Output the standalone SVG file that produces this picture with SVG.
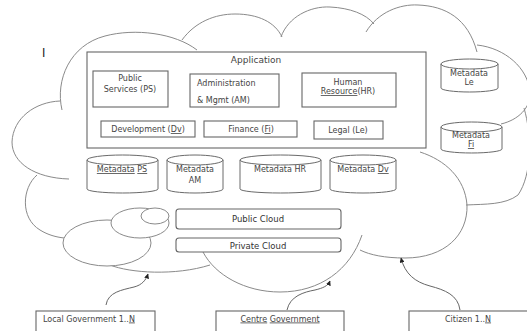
<svg xmlns="http://www.w3.org/2000/svg" width="527" height="331" viewBox="0 0 527 331">
<style>
.cl{fill:none;stroke:#8a8a8a;stroke-width:1}
.el{fill:#fff;stroke:#8a8a8a;stroke-width:1}
.bx{fill:#fff;stroke:#666;stroke-width:1.1}
.cy{fill:#fff;stroke:#6a6a6a;stroke-width:1}
.t{font-family:"DejaVu Sans",Verdana,sans-serif;font-size:8px;fill:#444}
.c{text-anchor:middle}
.u{text-decoration:underline}
.ar{fill:none;stroke:#666;stroke-width:1}
</style>
<defs>
<marker id="ah" viewBox="0 0 10 10" refX="9" refY="5" markerWidth="5" markerHeight="5" orient="auto">
<path d="M0,0 L10,5 L0,10 Z" fill="#222"/>
</marker>
</defs>
<rect width="527" height="331" fill="#fff"/>
<g id="cloud">
<path class="cl" d="M62,110 C55,80 70,45 105,36 C135,28 175,33 197,50"/>
<path class="cl" d="M182,40 C195,22 215,14 235,14 C258,14 275,22 282,37"/>
<path class="cl" d="M281,37 C288,17 310,6 330,7 C350,8 366,14 374,24"/>
<path class="cl" d="M366,32 C378,12 400,4 418,5 C445,6 468,18 477,52"/>
<path class="cl" d="M477,45 C505,48 528,68 530,92 C531,108 518,120 501,124"/>
<path class="cl" d="M524,108 C532,135 532,175 518,195 C505,205 485,204 466,205"/>
<path class="cl" d="M420,152 C445,160 465,178 467,205 C468,235 445,258 405,258 C385,258 370,255 360,250"/>
<path class="cl" d="M203,252 C215,275 245,292 280,292 C320,292 350,270 362,235"/>
<path class="cl" d="M60,101 C35,102 13,118 12,142 C12,163 35,178 69,179"/>
<path class="cl" d="M37,175 C22,188 20,218 40,230 C48,235 56,237 64,238"/>
<path class="cl" d="M110,265 C130,273 175,276 210,265"/>
<ellipse class="el" cx="107" cy="243" rx="44" ry="23"/>
<ellipse class="el" cx="140" cy="223" rx="29" ry="15"/>
<ellipse class="el" cx="155" cy="216" rx="14" ry="8"/>
<text x="42" y="57" style="font-family:'Liberation Sans',Arial,sans-serif;font-size:12px;fill:#222">I</text>
</g>
<g id="application">
<rect class="bx" x="87" y="52" width="339" height="96"/>
<text class="t c" x="256" y="63" style="font-size:9px">Application</text>
</g>
<g id="ps">
<rect class="bx" x="93" y="71" width="75" height="36"/>
<text class="t c" x="130" y="81">Public</text>
<text class="t c" x="130" y="92">Services (PS)</text>
</g>
<g id="am">
<rect class="bx" x="190" y="74" width="89" height="33"/>
<text class="t" x="197" y="85.5">Administration</text>
<text class="t" x="197" y="102.5">&amp; Mgmt  (AM)</text>
</g>
<g id="hr">
<rect class="bx" x="302" y="73" width="94" height="34"/>
<text class="t c" x="348" y="84.5">Human</text>
<text class="t c" x="348" y="94"><tspan class="u">Resource</tspan>(HR)</text>
</g>
<g id="dv">
<rect class="bx" x="101" y="121" width="94" height="16"/>
<text class="t c" x="148" y="132">Development (<tspan class="u">Dv</tspan>)</text>
</g>
<g id="fi">
<rect class="bx" x="204" y="121" width="93" height="16"/>
<text class="t c" x="251" y="132">Finance (<tspan class="u">Fi</tspan>)</text>
</g>
<g id="le">
<rect class="bx" x="314" y="121" width="69" height="18"/>
<text class="t c" x="348" y="132.5">Legal (Le)</text>
</g>
<g id="meta-ps">
<path class="cy" d="M87,160 A35.5,5 0 0 1 158,160 V189 A35.5,4 0 0 1 87,189 Z M87,160 A35.5,5 0 0 0 158,160"/>
<text class="t c" x="122" y="172"><tspan class="u">Metadata</tspan>  <tspan class="u">PS</tspan></text>
</g>
<g id="meta-am">
<path class="cy" d="M167,160 A28,5 0 0 1 223,160 V189 A28,4 0 0 1 167,189 Z M167,160 A28,5 0 0 0 223,160"/>
<text class="t c" x="195" y="172">Metadata</text>
<text class="t c" x="195" y="183">AM</text>
</g>
<g id="meta-hr">
<path class="cy" d="M240,160 A40.5,5 0 0 1 321,160 V189 A40.5,4 0 0 1 240,189 Z M240,160 A40.5,5 0 0 0 321,160"/>
<text class="t c" x="280" y="172">Metadata HR</text>
</g>
<g id="meta-dv">
<path class="cy" d="M330,160 A33,5 0 0 1 396,160 V189 A33,4 0 0 1 330,189 Z M330,160 A33,5 0 0 0 396,160"/>
<text class="t c" x="363" y="172">Metadata <tspan class="u">Dv</tspan></text>
</g>
<g id="meta-le">
<path class="cy" d="M441,64 A28.5,5 0 0 1 498,64 V88 A28.5,4 0 0 1 441,88 Z M441,64 A28.5,5 0 0 0 498,64"/>
<text class="t c" x="469" y="76">Metadata</text>
<text class="t c" x="469" y="85">Le</text>
</g>
<g id="meta-fi">
<path class="cy" d="M441,127 A30.5,5 0 0 1 502,127 V149 A30.5,4 0 0 1 441,149 Z M441,127 A30.5,5 0 0 0 502,127"/>
<text class="t c" x="471" y="138">Metadata</text>
<text class="t c" x="471" y="147"><tspan class="u">Fi</tspan></text>
</g>
<g id="public-cloud">
<rect class="bx" x="176" y="209" width="165" height="20" rx="3"/>
<text class="t c" x="258" y="222" style="font-size:8.5px;fill:#333">Public Cloud</text>
</g>
<g id="private-cloud">
<rect class="bx" x="176" y="238" width="165" height="14" rx="3"/>
<text class="t c" x="258" y="248.5" style="font-size:8.5px;fill:#333">Private Cloud</text>
</g>
<g id="local-gov">
<rect class="bx" x="36" y="311" width="119" height="30"/>
<text class="t" x="43" y="321.5">Local Government 1..<tspan class="u">N</tspan></text>
</g>
<g id="centre-gov">
<rect class="bx" x="216" y="311" width="128" height="30"/>
<text class="t c" x="280" y="321.5"><tspan class="u">Centre</tspan>  <tspan class="u">Government</tspan></text>
</g>
<g id="citizen">
<rect class="bx" x="409" y="311" width="125" height="30"/>
<text class="t c" x="468" y="321.5">Citizen 1..<tspan class="u">N</tspan></text>
</g>
<g id="connectors">
<path class="ar" marker-end="url(#ah)" d="M106,305 C108,292 122,290 134,287 C142,285 146,280 148,274"/>
<path class="ar" marker-end="url(#ah)" d="M287,310 C290,296 304,292 315,290 C323,288 328,286 330,281"/>
<path class="ar" marker-end="url(#ah)" d="M460,310 C458,295 445,290 430,286 C415,282 405,274 401,258"/>
</g>
</svg>
